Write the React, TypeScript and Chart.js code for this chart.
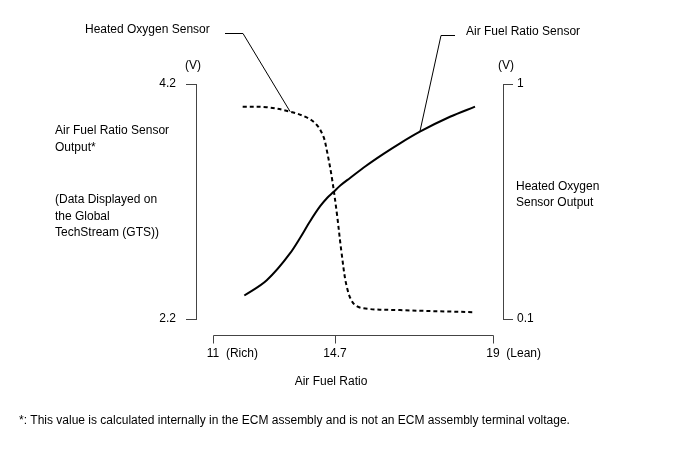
import React, { useEffect, useRef } from 'react';
import { Chart, registerables, LinearScale } from 'chart.js';

// ---- data ----
const X_TICKS = [11, 14.7, 19];
const X_TICK_NOTES = ['(Rich)', '', '(Lean)'];
const LEFT_TICKS = [2.2, 4.2];
const RIGHT_TICKS = [0.1, 1];

const AFR_X = [11.95, 12.63, 13.34, 13.64, 13.94, 14.25, 14.46, 14.65, 14.86, 15.11, 15.54, 16.01, 16.47, 17.01, 17.83, 18.51];
const AFR_V = [2.4, 2.53, 2.76, 2.89, 3.03, 3.16, 3.23, 3.28, 3.34, 3.4, 3.502, 3.603, 3.695, 3.794, 3.921, 4.007];

const HO2S_X = [11.9, 12.63, 13.34, 13.84, 14.15, 14.35, 14.45, 14.6, 14.75, 14.88, 15.02, 15.2, 15.47, 16.47, 18.51];
const HO2S_V = [0.913, 0.911, 0.894, 0.872, 0.843, 0.798, 0.747, 0.645, 0.505, 0.352, 0.224, 0.16, 0.141, 0.134, 0.126];

const HO2S_LABEL_INDEX = 2;
const AFR_LABEL_INDEX = 13;

const FONT = '"Liberation Sans", Arial, sans-serif';

// schematic (piecewise) air-fuel-ratio axis: 14.7 sits at this fraction of the 11..19 span
const MID_FRAC = 122 / 280;
function warp(v: number): number {
  const [a, m, b] = X_TICKS;
  if (v <= a || v >= b) return v;
  const span = b - a;
  if (v <= m) return a + ((v - a) / (m - a)) * span * MID_FRAC;
  return a + span * MID_FRAC + ((v - m) / (b - m)) * span * (1 - MID_FRAC);
}
function unwarp(u: number): number {
  const [a, m, b] = X_TICKS;
  if (u <= a || u >= b) return u;
  const span = b - a;
  const um = a + span * MID_FRAC;
  if (u <= um) return a + ((u - a) / (span * MID_FRAC)) * (m - a);
  return m + ((u - um) / (span * (1 - MID_FRAC))) * (b - m);
}

class AfrScale extends LinearScale {
  static id = 'afr';
  getPixelForValue(value: any) {
    if (value === null || value === undefined || isNaN(value)) return NaN;
    const a = warp(this.min);
    const b = warp(this.max);
    return this.getPixelForDecimal((warp(value) - a) / (b - a));
  }
  getValueForPixel(pixel: number) {
    const a = warp(this.min);
    const b = warp(this.max);
    return unwarp(a + this.getDecimalForPixel(pixel) * (b - a));
  }
}

Chart.register(...registerables, AfrScale as any);

const AXIS_COLOR = '#444';
const TEXT_COLOR = '#000';

const decorPlugin = {
  id: 'decor',
  afterDraw(chart: any) {
    const ctx = chart.ctx;
    const { chartArea } = chart;
    const x = chart.scales.x;
    const yL = chart.scales.yL;
    const yR = chart.scales.yR;
    ctx.save();

    // x axis line + ticks
    const axisY = Math.round(chartArea.bottom + 16) + 0.5;
    const x0 = Math.round(x.getPixelForValue(X_TICKS[0])) + 0.5;
    const x1 = Math.round(x.getPixelForValue(X_TICKS[X_TICKS.length - 1])) + 0.5;
    ctx.strokeStyle = AXIS_COLOR;
    ctx.lineWidth = 1;
    ctx.beginPath();
    ctx.moveTo(x0, axisY);
    ctx.lineTo(x1, axisY);
    X_TICKS.forEach((v) => {
      const px = Math.round(x.getPixelForValue(v)) + 0.5;
      ctx.moveTo(px, axisY);
      ctx.lineTo(px, axisY + 8);
    });
    ctx.stroke();

    ctx.fillStyle = TEXT_COLOR;
    ctx.font = `12px ${FONT}`;
    ctx.textBaseline = 'middle';
    X_TICKS.forEach((v, i) => {
      const px = x.getPixelForValue(v);
      const num = String(v);
      const w = ctx.measureText(num).width;
      ctx.textAlign = 'left';
      const txt = X_TICK_NOTES[i] ? `${num}  ${X_TICK_NOTES[i]}` : num;
      ctx.fillText(txt, px - w / 2, axisY + 18);
    });
    ctx.textAlign = 'center';
    ctx.fillText('Air Fuel Ratio', x.getPixelForValue(X_TICKS[1]) - 4, axisY + 46);

    // units
    ctx.fillText('(V)', chartArea.left - 3, chartArea.top - 18);
    ctx.fillText('(V)', chartArea.right + 3, chartArea.top - 18);

    // axis titles
    ctx.textAlign = 'left';
    const leftTitle = ['Air Fuel Ratio Sensor', 'Output*'];
    leftTitle.forEach((t, i) => ctx.fillText(t, 55, 131 + i * 17));
    const leftNote = ['(Data Displayed on', 'the Global', 'TechStream (GTS))'];
    leftNote.forEach((t, i) => ctx.fillText(t, 55, 200 + i * 16.5));
    const rightTitle = ['Heated Oxygen', 'Sensor Output'];
    rightTitle.forEach((t, i) => ctx.fillText(t, chartArea.right + 13, 187 + i * 16));

    // leader labels
    ctx.strokeStyle = '#000';
    ctx.lineWidth = 1;
    const hx = x.getPixelForValue(HO2S_X[HO2S_LABEL_INDEX]);
    const hy = yR.getPixelForValue(HO2S_V[HO2S_LABEL_INDEX]);
    ctx.beginPath();
    ctx.moveTo(225, 33.5);
    ctx.lineTo(243, 33.5);
    ctx.lineTo(hx, hy);
    ctx.stroke();
    ctx.fillText('Heated Oxygen Sensor', 85, 30);

    const ax = x.getPixelForValue(AFR_X[AFR_LABEL_INDEX]);
    const ay = yL.getPixelForValue(AFR_V[AFR_LABEL_INDEX]);
    ctx.beginPath();
    ctx.moveTo(455, 35.5);
    ctx.lineTo(441, 35.5);
    ctx.lineTo(ax, ay);
    ctx.stroke();
    ctx.fillText('Air Fuel Ratio Sensor', 466, 32);

    // footnote
    ctx.font = `12px ${FONT}`;
    ctx.fillText(
      '*: This value is calculated internally in the ECM assembly and is not an ECM assembly terminal voltage.',
      19,
      421
    );
    ctx.restore();
  },
};

export default function App() {
  const ref = useRef<HTMLCanvasElement | null>(null);
  useEffect(() => {
    if (!ref.current) return;
    const chart = new Chart(ref.current, {
      type: 'line',
      data: {
        datasets: [
          {
            label: 'Air Fuel Ratio Sensor',
            data: AFR_X.map((v, i) => ({ x: v, y: AFR_V[i] })),
            xAxisID: 'x',
            yAxisID: 'yL',
            borderColor: '#000',
            borderWidth: 2,
            pointRadius: 0,
            cubicInterpolationMode: 'monotone',
            fill: false,
          },
          {
            label: 'Heated Oxygen Sensor',
            data: HO2S_X.map((v, i) => ({ x: v, y: HO2S_V[i] })),
            xAxisID: 'x',
            yAxisID: 'yR',
            borderColor: '#000',
            borderWidth: 2,
            borderDash: [4, 3],
            pointRadius: 0,
            tension: 0.35,
            fill: false,
          },
        ],
      },
      options: {
        responsive: false,
        animation: false,
        layout: { padding: { top: 84, left: 0, right: 0, bottom: 0 } },
        plugins: { legend: { display: false }, tooltip: { enabled: false } },
        events: [],
        scales: {
          x: {
            type: 'afr' as any,
            position: 'bottom',
            min: 11 - 17 / 35,
            max: 19 + 10 / 35,
            afterBuildTicks: (s: any) => {
              s.ticks = X_TICKS.map((v) => ({ value: v }));
            },
            afterFit: (s: any) => {
              s.height = 144;
            },
            ticks: { display: false },
            grid: { display: false },
            border: { display: false },
          },
          yL: {
            type: 'linear',
            position: 'left',
            min: LEFT_TICKS[0],
            max: LEFT_TICKS[1],
            afterBuildTicks: (s: any) => {
              s.ticks = LEFT_TICKS.map((v) => ({ value: v }));
            },
            afterFit: (s: any) => {
              s.width = 196;
            },
            ticks: {
              color: TEXT_COLOR,
              font: { family: FONT, size: 12 },
              padding: 10,
              callback: (v: any) => Number(v).toFixed(1),
            },
            grid: { drawOnChartArea: false, tickLength: 10, color: AXIS_COLOR, lineWidth: 1 },
            border: { display: true, color: AXIS_COLOR, width: 1 },
          },
          yR: {
            type: 'linear',
            position: 'right',
            min: RIGHT_TICKS[0],
            max: RIGHT_TICKS[1],
            afterBuildTicks: (s: any) => {
              s.ticks = RIGHT_TICKS.map((v) => ({ value: v }));
            },
            afterFit: (s: any) => {
              s.width = 185;
            },
            ticks: {
              color: TEXT_COLOR,
              font: { family: FONT, size: 12 },
              padding: 4,
              callback: (v: any) => String(v),
            },
            grid: { drawOnChartArea: false, tickLength: 10, color: AXIS_COLOR, lineWidth: 1 },
            border: { display: true, color: AXIS_COLOR, width: 1 },
          },
        },
      },
      plugins: [decorPlugin],
    });
    return () => chart.destroy();
  }, []);
  return (
    <div style={{ position: 'fixed', left: 0, top: 0, width: 688, height: 463, background: '#fff' }}>
      <canvas ref={ref} width={688} height={463} style={{ display: 'block' }} />
    </div>
  );
}
